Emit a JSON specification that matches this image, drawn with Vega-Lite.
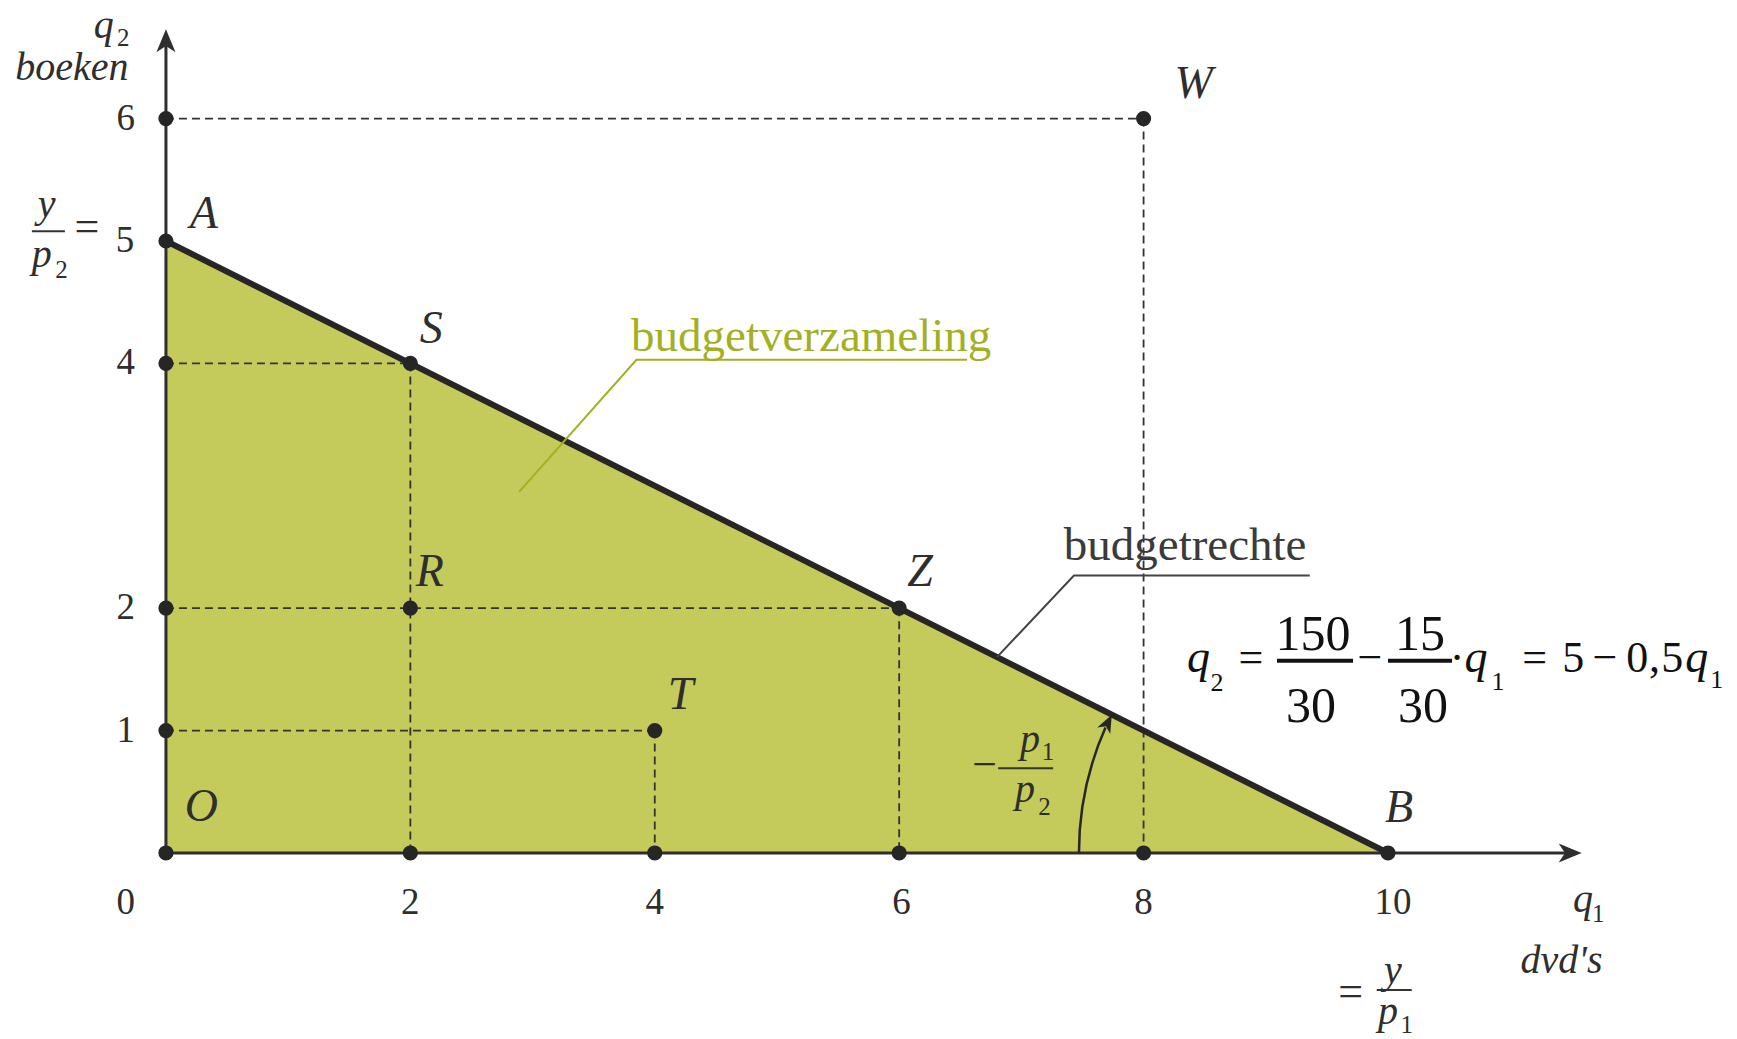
{
  "$schema": "https://vega.github.io/schema/vega-lite/v6.json",
  "width": 1737,
  "height": 1039,
  "autosize": {"type": "none"},
  "padding": 0,
  "background": "white",
  "config": {"view": {"stroke": null}, "axis": {"disable": true}},
  "datasets": {
    "tri": [{"x": 0, "y": 5}, {"x": 10, "y": 0}],
    "axes": [{"x": 0, "y": 0, "x2": 11.45, "y2": 0}, {"x": 0, "y": 0, "x2": 0, "y2": 6.62}],
    "dashes": [
      {"x": 0, "y": 6, "x2": 8, "y2": 6}, {"x": 8, "y": 6, "x2": 8, "y2": 0},
      {"x": 0, "y": 4, "x2": 2, "y2": 4}, {"x": 2, "y": 4, "x2": 2, "y2": 0},
      {"x": 0, "y": 2, "x2": 6, "y2": 2}, {"x": 6, "y": 2, "x2": 6, "y2": 0},
      {"x": 0, "y": 1, "x2": 4, "y2": 1}, {"x": 4, "y": 1, "x2": 4, "y2": 0}
    ],
    "dots": [
      {"x": 0, "y": 6}, {"x": 8, "y": 6}, {"x": 0, "y": 5}, {"x": 0, "y": 4}, {"x": 2, "y": 4},
      {"x": 0, "y": 2}, {"x": 2, "y": 2}, {"x": 6, "y": 2}, {"x": 0, "y": 1}, {"x": 4, "y": 1},
      {"x": 0, "y": 0}, {"x": 2, "y": 0}, {"x": 4, "y": 0}, {"x": 6, "y": 0}, {"x": 8, "y": 0}, {"x": 10, "y": 0}
    ],
    "leaderSet": [{"x": 2.89, "y": 2.95}, {"x": 3.85, "y": 4.03}, {"x": 6.555, "y": 4.03}],
    "leaderLine": [{"x": 6.8, "y": 1.6}, {"x": 7.43, "y": 2.266}, {"x": 9.36, "y": 2.266}],
    "bars": [{"x": -1.097, "x2": -0.827, "y": 5.08}, {"x": 6.81, "x2": 7.26, "y": 0.692}, {"x": 9.908, "x2": 10.194, "y": -1.12}],
    "eqBars": [{"x": 9.092, "x2": 9.714, "y": 1.571}, {"x": 10.0, "x2": 10.524, "y": 1.571}],
    "xArrow": [{"x": 11.585, "y": 0}],
    "yArrow": [{"x": 0, "y": 6.73}],
    "arcCenter": [{"x": 10, "y": 0}],
    "arcArrow": [{"x": 7.74, "y": 1.13}],
    "letters": [
      {"x": 0.31, "y": 5.11, "t": "A"}, {"x": 2.17, "y": 4.17, "t": "S"}, {"x": 2.16, "y": 2.18, "t": "R"},
      {"x": 6.17, "y": 2.18, "t": "Z"}, {"x": 4.21, "y": 1.18, "t": "T"}, {"x": 0.29, "y": 0.26, "t": "O"},
      {"x": 10.09, "y": 0.25, "t": "B"}, {"x": 8.41, "y": 6.17, "t": "W"}
    ],
    "ticks": [
      {"x": -0.33, "y": -0.41, "t": "0"}, {"x": 2, "y": -0.41, "t": "2"}, {"x": 4, "y": -0.41, "t": "4"},
      {"x": 6.02, "y": -0.41, "t": "6"}, {"x": 8, "y": -0.41, "t": "8"}, {"x": 10.04, "y": -0.41, "t": "10"},
      {"x": -0.33, "y": 1, "t": "1"}, {"x": -0.33, "y": 2, "t": "2"}, {"x": -0.33, "y": 4, "t": "4"},
      {"x": -0.335, "y": 5, "t": "5"}, {"x": -0.33, "y": 6, "t": "6"}
    ],
    "italicVars": [
      {"x": -0.51, "y": 6.66, "t": "q"}, {"x": -0.77, "y": 6.315, "t": "boeken"},
      {"x": -0.976, "y": 5.198, "t": "y"}, {"x": -1.017, "y": 4.79, "t": "p"},
      {"x": 7.07, "y": 0.828, "t": "p"}, {"x": 7.03, "y": 0.419, "t": "p"},
      {"x": 11.596, "y": -0.48, "t": "q"}, {"x": 11.42, "y": -0.98, "t": "dvd's"},
      {"x": 10.04, "y": -1.062, "t": "y"}, {"x": 10.0, "y": -1.4, "t": "p"}
    ],
    "subs": [
      {"x": -0.35, "y": 6.59, "t": "2"}, {"x": -0.854, "y": 4.7, "t": "2"},
      {"x": 7.218, "y": 0.76, "t": "1"}, {"x": 7.19, "y": 0.31, "t": "2"},
      {"x": 11.72, "y": -0.56, "t": "1"}, {"x": 10.153, "y": -1.47, "t": "1"}
    ],
    "symbols": [
      {"x": -0.646, "y": 4.998, "t": "="}, {"x": 9.695, "y": -1.252, "t": "="}, {"x": 6.7, "y": 0.602, "t": "−"}
    ],
    "eqNum": [
      {"x": 9.386, "y": 1.658, "t": "150"}, {"x": 9.37, "y": 1.073, "t": "30"},
      {"x": 10.262, "y": 1.658, "t": "15"}, {"x": 10.286, "y": 1.073, "t": "30"}
    ],
    "eqMain": [
      {"x": 8.879, "y": 1.478, "t": "="}, {"x": 9.853, "y": 1.478, "t": "−"}, {"x": 10.565, "y": 1.478, "t": "·"},
      {"x": 11.2, "y": 1.478, "t": "="}, {"x": 11.517, "y": 1.478, "t": "5"}, {"x": 11.776, "y": 1.478, "t": "−"},
      {"x": 12.04, "y": 1.478, "t": "0"}, {"x": 12.18, "y": 1.478, "t": ","}, {"x": 12.327, "y": 1.478, "t": "5"}
    ],
    "eqItal": [
      {"x": 8.45, "y": 1.478, "t": "q"}, {"x": 10.72, "y": 1.478, "t": "q"}, {"x": 12.526, "y": 1.478, "t": "q"}
    ],
    "eqSubs": [
      {"x": 8.6, "y": 1.32, "t": "2"}, {"x": 10.9, "y": 1.33, "t": "1"}, {"x": 12.69, "y": 1.348, "t": "1"}
    ],
    "labelSet": [{"x": 5.28, "y": 4.1, "t": "budgetverzameling"}],
    "labelLine": [{"x": 8.34, "y": 2.394, "t": "budgetrechte"}]
  },
  "encoding": {
    "x": {"field": "x", "type": "quantitative", "scale": {"domain": [-1.358, 12.856], "nice": false, "zero": false}, "axis": null},
    "y": {"field": "y", "type": "quantitative", "scale": {"domain": [-1.52, 6.969], "nice": false, "zero": false}, "axis": null}
  },
  "layer": [
    {"data": {"name": "tri"}, "mark": {"type": "area", "color": "#C4CB5A", "opacity": 1}, "encoding": {"y2": {"datum": 0}}},
    {"data": {"name": "dashes"}, "mark": {"type": "rule", "color": "#333333", "strokeWidth": 1.8, "strokeDash": [8, 5]}, "encoding": {"x2": {"field": "x2"}, "y2": {"field": "y2"}}},
    {"data": {"name": "axes"}, "mark": {"type": "rule", "color": "#2e2e2e", "strokeWidth": 3}, "encoding": {"x2": {"field": "x2"}, "y2": {"field": "y2"}}},
    {"data": {"name": "tri"}, "mark": {"type": "line", "color": "#262626", "strokeWidth": 6}, "encoding": {}},
    {"data": {"name": "leaderSet"}, "mark": {"type": "line", "color": "#A3B01F", "strokeWidth": 2}, "encoding": {}},
    {"data": {"name": "leaderLine"}, "mark": {"type": "line", "color": "#444444", "strokeWidth": 2}, "encoding": {}},
    {"data": {"name": "bars"}, "mark": {"type": "rule", "color": "#333333", "strokeWidth": 2}, "encoding": {"x2": {"field": "x2"}}},
    {"data": {"name": "eqBars"}, "mark": {"type": "rule", "color": "#111111", "strokeWidth": 4}, "encoding": {"x2": {"field": "x2"}}},
    {"data": {"name": "arcCenter"}, "mark": {"type": "arc", "theta": 4.7124, "theta2": 5.13, "innerRadius": 307.8, "outerRadius": 310.3, "color": "#262626"}},
    {"data": {"name": "dots"}, "mark": {"type": "point", "shape": "circle", "filled": true, "size": 230, "color": "#262626", "opacity": 1}},
    {"data": {"name": "xArrow"}, "mark": {"type": "point", "shape": "M0,0L0.83,2L0,1.45L-0.83,2Z", "filled": true, "size": 529, "angle": 90, "color": "#2e2e2e", "opacity": 1}},
    {"data": {"name": "yArrow"}, "mark": {"type": "point", "shape": "M0,0L0.83,2L0,1.45L-0.83,2Z", "filled": true, "size": 529, "angle": 0, "color": "#2e2e2e", "opacity": 1}},
    {"data": {"name": "arcArrow"}, "mark": {"type": "point", "shape": "M0,0L0.8,2L0,1.45L-0.8,2Z", "filled": true, "size": 324, "angle": 26.57, "color": "#262626", "opacity": 1}},
    {"data": {"name": "letters"}, "mark": {"type": "text", "font": "Liberation Serif", "fontSize": 46, "fontStyle": "italic", "color": "#2e2e2e", "align": "center", "baseline": "alphabetic"}, "encoding": {"text": {"field": "t"}}},
    {"data": {"name": "ticks"}, "mark": {"type": "text", "font": "Liberation Serif", "fontSize": 37, "color": "#2e2e2e", "align": "center", "baseline": "middle"}, "encoding": {"text": {"field": "t"}}},
    {"data": {"name": "italicVars"}, "mark": {"type": "text", "font": "Liberation Serif", "fontSize": 40, "fontStyle": "italic", "color": "#2e2e2e", "align": "center", "baseline": "alphabetic"}, "encoding": {"text": {"field": "t"}}},
    {"data": {"name": "subs"}, "mark": {"type": "text", "font": "Liberation Serif", "fontSize": 25, "color": "#2e2e2e", "align": "center", "baseline": "alphabetic"}, "encoding": {"text": {"field": "t"}}},
    {"data": {"name": "symbols"}, "mark": {"type": "text", "font": "Liberation Serif", "fontSize": 44, "color": "#2e2e2e", "align": "center", "baseline": "alphabetic"}, "encoding": {"text": {"field": "t"}}},
    {"data": {"name": "eqNum"}, "mark": {"type": "text", "font": "Liberation Serif", "fontSize": 50, "color": "#111111", "align": "center", "baseline": "alphabetic"}, "encoding": {"text": {"field": "t"}}},
    {"data": {"name": "eqMain"}, "mark": {"type": "text", "font": "Liberation Serif", "fontSize": 44, "color": "#111111", "align": "center", "baseline": "alphabetic"}, "encoding": {"text": {"field": "t"}}},
    {"data": {"name": "eqItal"}, "mark": {"type": "text", "font": "Liberation Serif", "fontSize": 46, "fontStyle": "italic", "color": "#111111", "align": "center", "baseline": "alphabetic"}, "encoding": {"text": {"field": "t"}}},
    {"data": {"name": "eqSubs"}, "mark": {"type": "text", "font": "Liberation Serif", "fontSize": 26, "color": "#111111", "align": "center", "baseline": "alphabetic"}, "encoding": {"text": {"field": "t"}}},
    {"data": {"name": "labelSet"}, "mark": {"type": "text", "font": "Liberation Serif", "fontSize": 47, "color": "#A3B01F", "align": "center", "baseline": "alphabetic"}, "encoding": {"text": {"field": "t"}}},
    {"data": {"name": "labelLine"}, "mark": {"type": "text", "font": "Liberation Serif", "fontSize": 47, "color": "#3a3a3a", "align": "center", "baseline": "alphabetic"}, "encoding": {"text": {"field": "t"}}}
  ]
}
